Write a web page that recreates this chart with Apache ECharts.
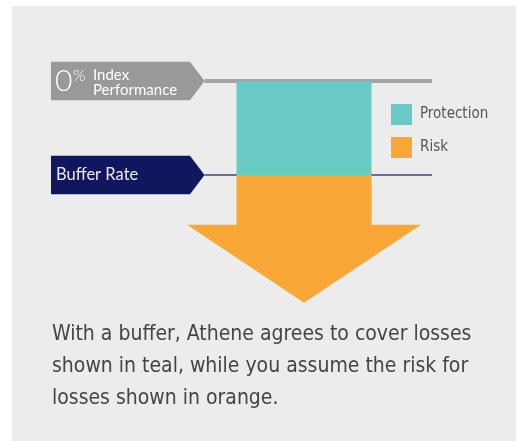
<!DOCTYPE html>
<html>
<head>
<meta charset="utf-8">
<script src="https://cdn.jsdelivr.net/npm/echarts@6/dist/echarts.min.js"></script>
<style>
  html, body { margin: 0; padding: 0; background: #ffffff; }
  #chart { width: 517px; height: 441px; }
</style>
</head>
<body>
<div id="chart"></div>
<script>
// ---- data ----
const categories = ['Index'];
const levelNames = ['Index Performance', 'Buffer Rate'];
const levelValues = [0, -10];           // % index performance at each marker
const seriesNames = ['Protection', 'Risk'];
const protectionRange = [0, -10];       // start, end (%)
const riskRange = [-10, -15.3, -23.6];  // start, shaft end, arrow tip (%)
const yTicks = [0, -25];
const caption = 'With a buffer, Athene agrees to cover losses\nshown in teal, while you assume the risk for\nlosses shown in orange.';

const TEAL = '#68c9c5';
const ORANGE = '#f9a737';
const GRAY = '#98999b';
const NAVY = '#10175e';
const COND = '"DejaVu Sans Condensed", "Liberation Sans Narrow", sans-serif';

const chart = echarts.init(document.getElementById('chart'));

function levelItem(params, api) {
  const c = api.coord([api.value(0), api.value(1)]);
  const cx = c[0], y = c[1];
  const idx = params.dataIndex;
  const fill = idx === 0 ? GRAY : NAVY;
  const lineColor = idx === 0 ? '#a3a4a6' : '#3b4080';
  const lineW = idx === 0 ? 4 : 1.5;
  const left = cx - 253, rectR = cx - 114, tip = cx - 99.5, h = 19.2;
  const children = [
    { type: 'line', shape: { x1: tip, y1: y, x2: cx + 128, y2: y },
      style: { stroke: lineColor, lineWidth: lineW } },
    { type: 'polygon', shape: { points: [[left, y - h], [rectR, y - h], [tip, y], [rectR, y + h], [left, y + h]] },
      style: { fill: fill } }
  ];
  if (idx === 0) {
    children.push(
      { type: 'text', style: { text: String(levelValues[0]), x: left + 4, y: y + 0.5, fill: '#ffffff',
        font: '300 30px Lato, sans-serif', textVerticalAlign: 'middle' } },
      { type: 'text', style: { text: '%', x: left + 22, y: y - 5.5, fill: '#ffffff',
        font: '300 16px Lato, sans-serif', textVerticalAlign: 'middle' } },
      { type: 'text', style: { text: 'Index\nPerformance', x: left + 42, y: y - 13, fill: '#ffffff',
        font: '15px Lato, sans-serif', lineHeight: 15, textVerticalAlign: 'top' } }
    );
  } else {
    children.push(
      { type: 'text', style: { text: levelNames[1], x: left + 5, y: y, fill: '#ececf2',
        font: '16.5px Lato, sans-serif', textVerticalAlign: 'middle' } }
    );
  }
  return { type: 'group', children: children };
}

function protectionItem(params, api) {
  const top = api.coord([api.value(0), api.value(1)]);
  const bot = api.coord([api.value(0), api.value(2)]);
  const hw = 67.5;
  return { type: 'rect', shape: { x: top[0] - hw, y: top[1], width: hw * 2, height: bot[1] - top[1] },
    style: { fill: TEAL } };
}

function riskItem(params, api) {
  const a = api.coord([api.value(0), api.value(1)]);
  const s = api.coord([api.value(0), api.value(2)]);
  const t = api.coord([api.value(0), api.value(3)]);
  const cx = a[0], hw = 67.5, hh = 117;
  return { type: 'polygon', shape: { points: [
      [cx - hw, a[1]], [cx + hw, a[1]], [cx + hw, s[1]], [cx + hh, s[1]],
      [cx, t[1]], [cx - hh, s[1]], [cx - hw, s[1]] ] },
    style: { fill: ORANGE } };
}

chart.setOption({
  animation: false,
  backgroundColor: '#ffffff',
  graphic: [{ type: 'rect', z: -10, shape: { x: 12, y: 6, width: 504, height: 440 }, style: { fill: '#ececec' } }],
  title: {
    text: caption, left: 47, top: 314,
    textStyle: { fontFamily: COND, fontWeight: 'normal', fontSize: 21, lineHeight: 32, color: '#444444' }
  },
  legend: {
    data: seriesNames, orient: 'vertical', left: 386, top: 99,
    itemWidth: 21, itemHeight: 21, itemGap: 12, icon: 'rect',
    textStyle: { fontFamily: COND, fontSize: 15, color: '#555555', padding: [0, 0, 0, 3] }
  },
  grid: { left: 187, right: 96, top: 81, bottom: 125 },
  xAxis: { type: 'category', data: categories, show: false },
  yAxis: { type: 'value', min: yTicks[1], max: yTicks[0], show: false, splitLine: { show: false } },
  series: [
    { type: 'custom', name: 'levels', z: 1, renderItem: levelItem,
      data: levelValues.map((v, i) => [categories[0], v, levelNames[i]]) },
    { type: 'custom', name: seriesNames[0], z: 3, itemStyle: { color: TEAL }, renderItem: protectionItem,
      data: [[categories[0], protectionRange[0], protectionRange[1]]] },
    { type: 'custom', name: seriesNames[1], z: 3, itemStyle: { color: ORANGE }, renderItem: riskItem,
      data: [[categories[0], riskRange[0], riskRange[1], riskRange[2]]] }
  ]
});
</script>
</body>
</html>
